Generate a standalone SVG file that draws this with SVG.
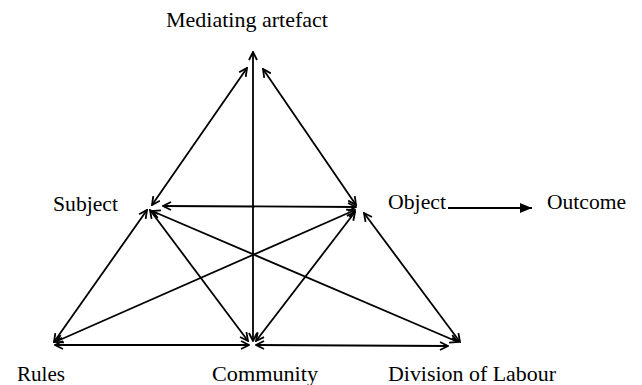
<svg xmlns="http://www.w3.org/2000/svg" width="642" height="385" viewBox="0 0 642 385">
<style>
  .lbl { font-family: "Liberation Serif", "Times New Roman", serif; font-size: 22px; fill: #000; }
  .c { stroke: #000; stroke-width: 1.8; fill: none; }
  .dbl { marker-start: url(#open); marker-end: url(#open); }
</style>
<defs>
  <marker id="open" viewBox="0 0 10 10" refX="9" refY="5" markerWidth="10" markerHeight="10" markerUnits="userSpaceOnUse" orient="auto-start-reverse">
    <path d="M1,1 L9,5 L1,9" fill="none" stroke="#000" stroke-width="1.8"/>
  </marker>
  <marker id="solid" viewBox="0 0 12 10" refX="12" refY="5" markerWidth="12" markerHeight="10" markerUnits="userSpaceOnUse" orient="auto">
    <path d="M0,0 L12,5 L0,10 Z" fill="#000"/>
  </marker>
</defs>
<rect width="642" height="385" fill="#fff"/>
<g id="connectors">
  <line class="c dbl" x1="247" y1="68" x2="152" y2="205"/>
  <line class="c dbl" x1="263" y1="69" x2="356" y2="205"/>
  <line class="c dbl" x1="253" y1="52" x2="253" y2="341"/>
  <line class="c dbl" x1="163" y1="206" x2="356" y2="207"/>
  <line class="c dbl" x1="147" y1="210" x2="54" y2="342"/>
  <line class="c dbl" x1="150" y1="210" x2="248" y2="341"/>
  <line class="c dbl" x1="152" y1="211" x2="458" y2="342"/>
  <line class="c dbl" x1="355" y1="210" x2="55" y2="342"/>
  <line class="c dbl" x1="355" y1="212" x2="256" y2="341"/>
  <line class="c dbl" x1="364" y1="213" x2="460" y2="342"/>
  <line class="c dbl" x1="55" y1="345" x2="249" y2="345"/>
  <line class="c dbl" x1="256" y1="345" x2="448" y2="346"/>
  <line class="c" x1="448" y1="208" x2="532" y2="208" marker-end="url(#solid)"/>
</g>
<g id="mediating-artefact"><text class="lbl" x="166" y="27" textLength="162" lengthAdjust="spacingAndGlyphs">Mediating artefact</text></g>
<g id="subject"><text class="lbl" x="53" y="211" textLength="65" lengthAdjust="spacingAndGlyphs">Subject</text></g>
<g id="object"><text class="lbl" x="388" y="209" textLength="58" lengthAdjust="spacingAndGlyphs">Object</text></g>
<g id="outcome"><text class="lbl" x="547" y="209" textLength="79" lengthAdjust="spacingAndGlyphs">Outcome</text></g>
<g id="rules"><text class="lbl" x="17" y="381" textLength="48" lengthAdjust="spacingAndGlyphs">Rules</text></g>
<g id="community"><text class="lbl" x="212" y="381" textLength="106" lengthAdjust="spacingAndGlyphs">Community</text></g>
<g id="division-of-labour"><text class="lbl" x="388" y="381" textLength="168" lengthAdjust="spacingAndGlyphs">Division of Labour</text></g>
</svg>
